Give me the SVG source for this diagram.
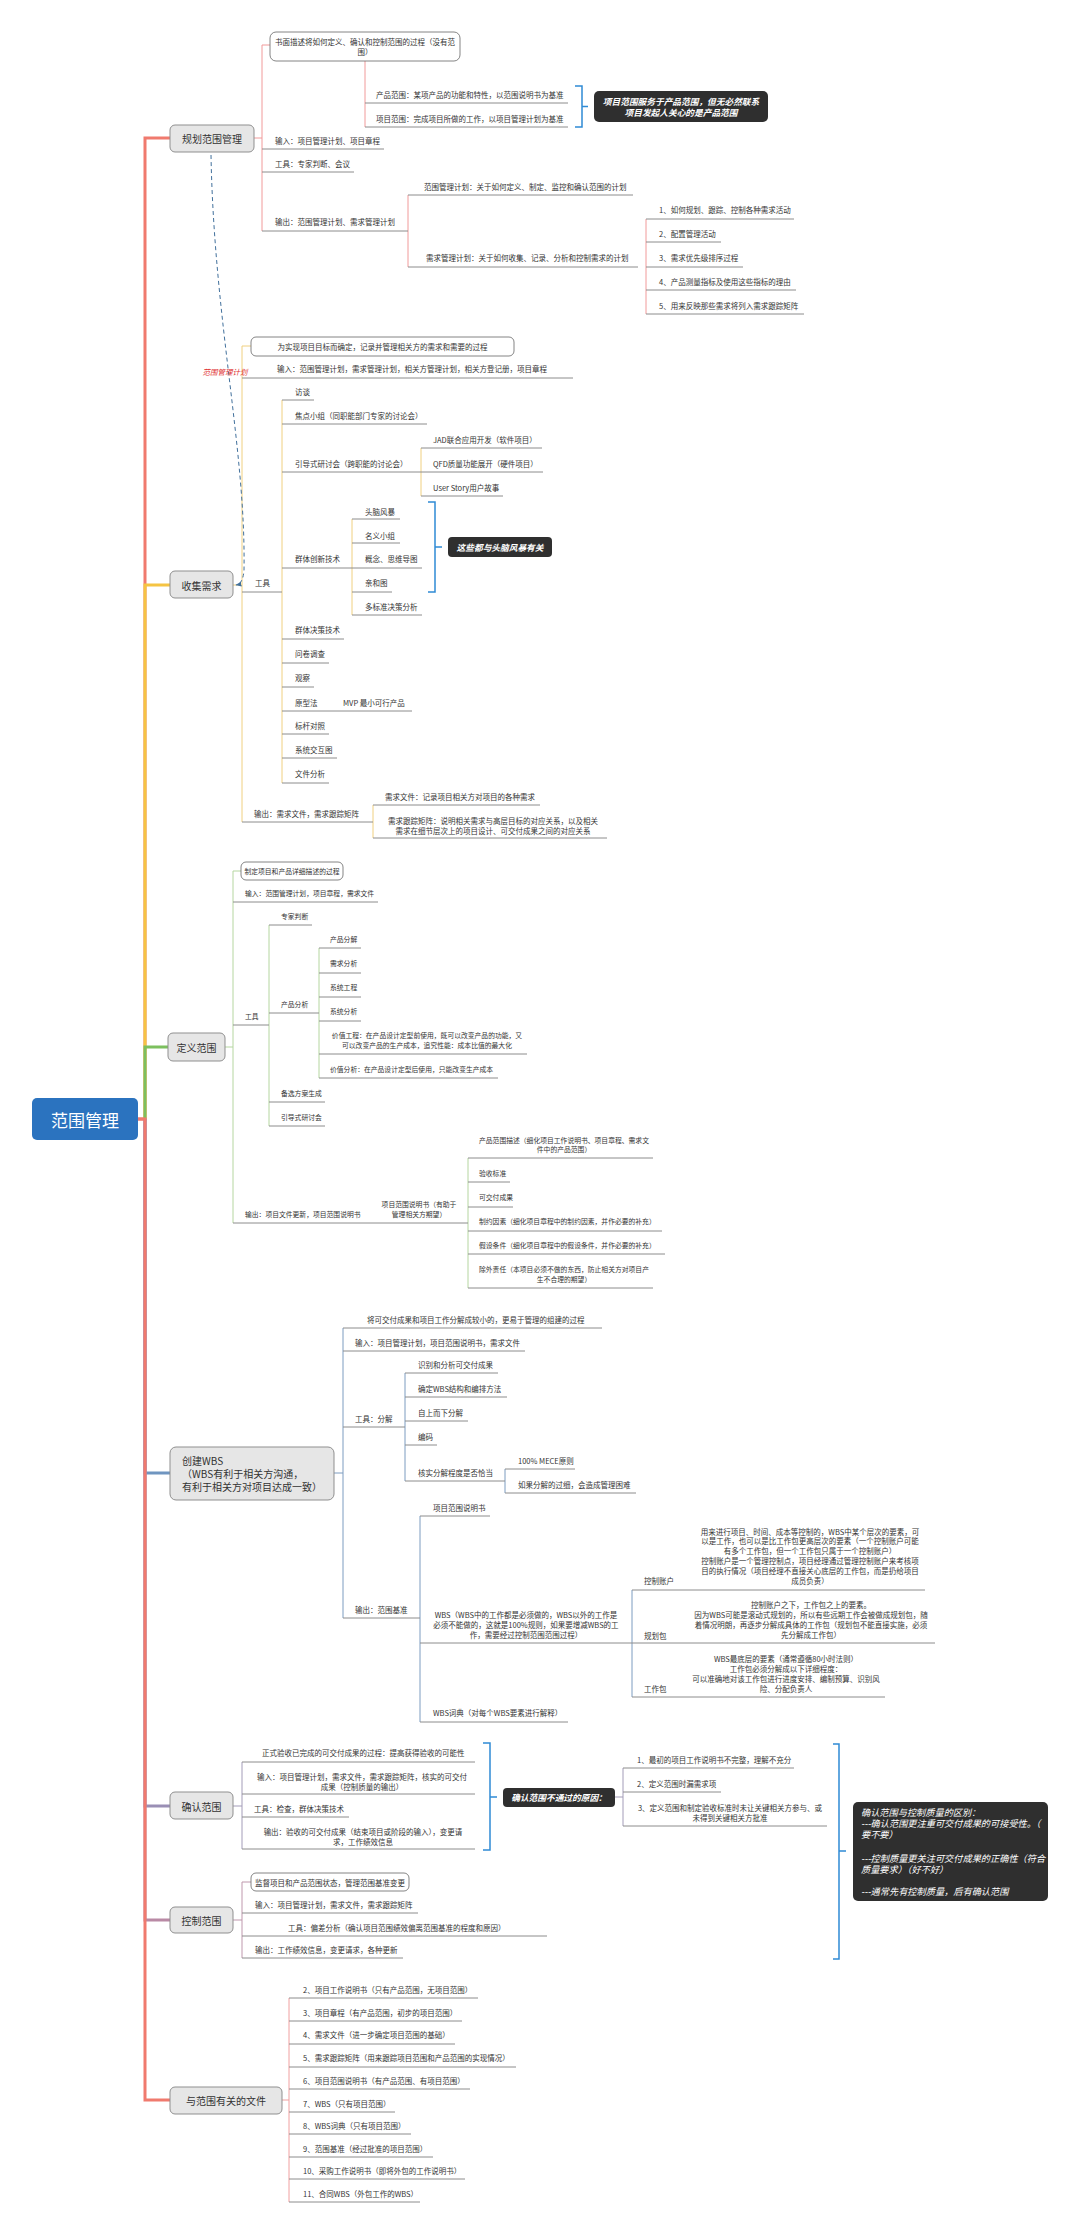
<svg xmlns="http://www.w3.org/2000/svg" width="1080" height="2234" viewBox="0 0 1080 2234">
<style>
text{font-family:"Noto Sans CJK SC","Noto Sans",sans-serif;font-size:7.5px;fill:#333;dominant-baseline:central}
.c{text-anchor:middle}
.s{font-size:6.8px}
.m{font-size:10px;fill:#333}
.r{font-size:17px;fill:#fff}
.d{fill:#fff;font-weight:bold;font-style:italic;font-size:8.7px}
.d2{fill:#fff;font-style:italic;font-size:9.2px}
.lbl{fill:#e03030;font-style:italic}
.u{stroke:#8c8c8c;stroke-width:1;fill:none}
.mb{fill:#e6e6e6;stroke:#8f8f8f;stroke-width:1}
.bx{fill:#fff;stroke:#666;stroke-width:0.8}
.dk{fill:#2f2f2f}
.br{fill:none;stroke:#2f8bd5;stroke-width:1.5}
.k{fill:none;stroke-width:1}
.tr{fill:none;stroke-width:3}
</style>
<defs>
<marker id="ah" viewBox="0 0 10 10" refX="9" refY="5" markerWidth="6" markerHeight="6" orient="auto"><path d="M0,1L10,5L0,9z" fill="#41709c"/></marker>
</defs>
<rect width="1080" height="2234" fill="#fff"/>

<g id="connectors">
<path class="tr" stroke="#f07a6e" d="M138,1119H145V138H170"/>
<path class="tr" stroke="#f5c443" d="M145,1119V585H170"/>
<path class="tr" stroke="#7cc05e" d="M145,1119V1047H168"/>
<path class="tr" stroke="#6f95c0" d="M145,1119V1473H170"/>
<path class="tr" stroke="#9a8fb5" d="M145,1119V1806H170"/>
<path class="tr" stroke="#b98aa5" d="M145,1119V1920H170"/>
<path class="tr" stroke="#f07a6e" d="M138,1119H145V2100H170"/>
<g class="k" stroke="#f19a9a">
<path d="M254,138H262M270,45H262V231"/><path d="M365,61V127"/><path d="M408,195V267"/><path d="M646,219V314"/>
</g>
<g class="k" stroke="#f0d080">
<path d="M233,585H242M251,346H242V822"/><path d="M282,400V783"/><path d="M421,448V496"/><path d="M352,519V615"/><path d="M373,805V838"/>
</g>
<g class="k" stroke="#b5d6a0">
<path d="M225,1047H233M241,871H233V1223"/><path d="M269,925V1126"/><path d="M319,948V1078"/><path d="M468,1158V1288"/>
</g>
<g class="k" stroke="#7d9cc0">
<path d="M334,1473H343M343,1328V1618"/><path d="M405,1373V1481"/><path d="M505,1469V1493"/><path d="M420,1516V1722"/><path d="M632,1590V1697"/>
</g>
<g class="k" stroke="#a39cb8">
<path d="M233,1806H242M242,1762V1849"/><path d="M615,1797H623M623,1768V1826"/>
</g>
<g class="k" stroke="#bf98ad">
<path d="M233,1920H242M251,1882H242V1958"/>
</g>
<g class="k" stroke="#f0a0a0">
<path d="M282,2100H289M289,1998V2202"/>
</g>
<path class="br" d="M575,86H582V127H575M582,106.5H588"/>
<path class="br" d="M428,502H435V592H428M435,547H442"/>
<path class="br" d="M483,1743H490V1850H483M490,1797H497"/>
<path class="br" d="M833,1744H839V1959H833M839,1851H846"/>
<path d="M211,155C214,320 246,450 244,570Q243,584 236,585" fill="none" stroke="#41709c" stroke-width="1" stroke-dasharray="4 3" marker-end="url(#ah)"/>
<text class="lbl c" x="225" y="371">范围管理计划</text>
</g>

<g id="root"><rect x="32" y="1098" width="106" height="42" rx="5" fill="#2b73bf"/><text class="r c" x="85" y="1119.5">范围管理</text></g>

<g id="plan">
<rect class="mb" x="170" y="125" width="84" height="27" rx="5"/><text class="m c" x="212" y="138.5">规划范围管理</text>
<g id="plan-def"><rect class="bx" x="270" y="32" width="190" height="29" rx="6"/><text class="c" x="365" y="41">书面描述将如何定义、确认和控制范围的过程（没有范</text><text class="c" x="365" y="51">围）</text></g>
<g id="plan-prod"><text x="376" y="94">产品范围：某项产品的功能和特性，以范围说明书为基准</text><path class="u" d="M365,103H568"/></g>
<g id="plan-proj"><text x="376" y="118">项目范围：完成项目所做的工作，以项目管理计划为基准</text><path class="u" d="M365,127H568"/></g>
<g id="plan-note"><rect class="dk" x="594" y="91" width="174" height="31" rx="5"/><text class="d c" x="681" y="101">项目范围服务于产品范围，但无必然联系</text><text class="d c" x="681" y="112">项目发起人关心的是产品范围</text></g>
<g id="plan-in"><text x="275" y="140">输入：项目管理计划、项目章程</text><path class="u" d="M262,149H384"/></g>
<g id="plan-tool"><text x="275" y="163">工具：专家判断、会议</text><path class="u" d="M262,172H354"/></g>
<g id="plan-out"><text x="275" y="221">输出：范围管理计划、需求管理计划</text><path class="u" d="M262,231H408"/></g>
<g id="plan-out1"><text x="424" y="186">范围管理计划：关于如何定义、制定、监控和确认范围的计划</text><path class="u" d="M408,195H633"/></g>
<g id="plan-out2"><text x="426" y="257">需求管理计划：关于如何收集、记录、分析和控制需求的计划</text><path class="u" d="M408,267H638"/></g>
<g id="plan-r1"><text x="659" y="209">1、如何规划、跟踪、控制各种需求活动</text><path class="u" d="M646,219H794"/></g>
<g id="plan-r2"><text x="659" y="233">2、配置管理活动</text><path class="u" d="M646,242H721"/></g>
<g id="plan-r3"><text x="659" y="257">3、需求优先级排序过程</text><path class="u" d="M646,267H743"/></g>
<g id="plan-r4"><text x="659" y="281">4、产品测量指标及使用这些指标的理由</text><path class="u" d="M646,290H796"/></g>
<g id="plan-r5"><text x="659" y="305">5、用来反映那些需求将列入需求跟踪矩阵</text><path class="u" d="M646,314H804"/></g>
</g>

<g id="collect">
<rect class="mb" x="170" y="571" width="63" height="27" rx="5"/><text class="m c" x="201.5" y="585">收集需求</text>
<g id="col-def"><rect class="bx" x="251" y="337" width="263" height="19" rx="5"/><text class="c" x="382.5" y="346.5">为实现项目目标而确定，记录并管理相关方的需求和需要的过程</text></g>
<g id="col-in"><text x="277" y="368">输入：范围管理计划，需求管理计划，相关方管理计划，相关方登记册，项目章程</text><path class="u" d="M242,378H573"/></g>
<g id="col-tool"><text x="255" y="582">工具</text><path class="u" d="M242,592H282"/></g>
<g id="col-t1"><text x="295" y="391">访谈</text><path class="u" d="M282,400H314"/></g>
<g id="col-t2"><text x="295" y="415">焦点小组（同职能部门专家的讨论会）</text><path class="u" d="M282,424H427"/></g>
<g id="col-t3"><text x="295" y="463">引导式研讨会（跨职能的讨论会）</text><path class="u" d="M282,472H421"/></g>
<g id="col-t3a"><text x="433" y="439">JAD联合应用开发（软件项目）</text><path class="u" d="M421,448H542"/></g>
<g id="col-t3b"><text x="433" y="463">QFD质量功能展开（硬件项目）</text><path class="u" d="M421,472H543"/></g>
<g id="col-t3c"><text x="433" y="487">User Story用户故事</text><path class="u" d="M421,496H503"/></g>
<g id="col-t4"><text x="295" y="558">群体创新技术</text><path class="u" d="M282,568H352"/></g>
<g id="col-t4a"><text x="365" y="511">头脑风暴</text><path class="u" d="M352,519H400"/></g>
<g id="col-t4b"><text x="365" y="535">名义小组</text><path class="u" d="M352,543H400"/></g>
<g id="col-t4c"><text x="365" y="558">概念、思维导图</text><path class="u" d="M352,568H422"/></g>
<g id="col-t4d"><text x="365" y="582">亲和图</text><path class="u" d="M352,592H392"/></g>
<g id="col-t4e"><text x="365" y="606">多标准决策分析</text><path class="u" d="M352,615H422"/></g>
<g id="col-note"><rect class="dk" x="448" y="537" width="104" height="20" rx="4"/><text class="d c" x="500" y="547">这些都与头脑风暴有关</text></g>
<g id="col-t5"><text x="295" y="629">群体决策技术</text><path class="u" d="M282,639H344"/></g>
<g id="col-t6"><text x="295" y="653">问卷调查</text><path class="u" d="M282,663H329"/></g>
<g id="col-t7"><text x="295" y="677">观察</text><path class="u" d="M282,687H314"/></g>
<g id="col-t8"><text x="295" y="702">原型法</text><path class="u" d="M282,711H338"/></g>
<g id="col-t8a"><text x="343" y="702">MVP 最小可行产品</text><path class="u" d="M338,711H412"/></g>
<g id="col-t9"><text x="295" y="725">标杆对照</text><path class="u" d="M282,734H329"/></g>
<g id="col-t10"><text x="295" y="749">系统交互图</text><path class="u" d="M282,758H337"/></g>
<g id="col-t11"><text x="295" y="773">文件分析</text><path class="u" d="M282,783H329"/></g>
<g id="col-out"><text x="254" y="813">输出：需求文件，需求跟踪矩阵</text><path class="u" d="M242,822H373"/></g>
<g id="col-o1"><text x="385" y="796">需求文件：记录项目相关方对项目的各种需求</text><path class="u" d="M373,805H540"/></g>
<g id="col-o2"><text class="c" x="493" y="820">需求跟踪矩阵：说明相关需求与高层目标的对应关系，以及相关</text><text class="c" x="493" y="830">需求在细节层次上的项目设计、可交付成果之间的对应关系</text><path class="u" d="M373,838H607"/></g>
</g>

<g id="define">
<rect class="mb" x="168" y="1033" width="57" height="28" rx="5"/><text class="m c" x="196.5" y="1047">定义范围</text>
<g id="def-def"><rect class="bx" x="241" y="862" width="102" height="18" rx="5"/><text class="s c" x="292" y="871">制定项目和产品详细描述的过程</text></g>
<g id="def-in"><text class="s" x="245" y="893">输入：范围管理计划，项目章程，需求文件</text><path class="u" d="M233,902H378"/></g>
<g id="def-tool"><text class="s" x="245" y="1016">工具</text><path class="u" d="M233,1025H269"/></g>
<g id="def-t1"><text class="s" x="281" y="916">专家判断</text><path class="u" d="M269,925H312"/></g>
<g id="def-t2"><text class="s" x="281" y="1004">产品分析</text><path class="u" d="M269,1013H319"/></g>
<g id="def-t2a"><text class="s" x="330" y="939">产品分解</text><path class="u" d="M319,948H361"/></g>
<g id="def-t2b"><text class="s" x="330" y="963">需求分析</text><path class="u" d="M319,973H361"/></g>
<g id="def-t2c"><text class="s" x="330" y="987">系统工程</text><path class="u" d="M319,997H361"/></g>
<g id="def-t2d"><text class="s" x="330" y="1011">系统分析</text><path class="u" d="M319,1021H361"/></g>
<g id="def-t2e"><text class="s c" x="427" y="1035">价值工程：在产品设计定型前使用，既可以改变产品的功能，又</text><text class="s c" x="427" y="1045">可以改变产品的生产成本，追究性能：成本比值的最大化</text><path class="u" d="M319,1054H527"/></g>
<g id="def-t2f"><text class="s" x="330" y="1069">价值分析：在产品设计定型后使用，只能改变生产成本</text><path class="u" d="M319,1078H498"/></g>
<g id="def-t3"><text class="s" x="281" y="1093">备选方案生成</text><path class="u" d="M269,1102H325"/></g>
<g id="def-t4"><text class="s" x="281" y="1117">引导式研讨会</text><path class="u" d="M269,1126H325"/></g>
<g id="def-out"><text class="s" x="245" y="1214">输出：项目文件更新，项目范围说明书</text><path class="u" d="M233,1223H378"/></g>
<g id="def-o1"><text class="s c" x="419" y="1204">项目范围说明书（有助于</text><text class="s c" x="419" y="1214">管理相关方期望）</text><path class="u" d="M378,1223H468"/></g>
<g id="def-o1a"><text class="s c" x="564" y="1140">产品范围描述（细化项目工作说明书、项目章程、需求文</text><text class="s c" x="564" y="1149">件中的产品范围）</text><path class="u" d="M468,1158H653"/></g>
<g id="def-o1b"><text class="s" x="479" y="1173">验收标准</text><path class="u" d="M468,1182H510"/></g>
<g id="def-o1c"><text class="s" x="479" y="1197">可交付成果</text><path class="u" d="M468,1207H513"/></g>
<g id="def-o1d"><text class="s" x="479" y="1221">制约因素（细化项目章程中的制约因素，并作必要的补充）</text><path class="u" d="M468,1231H662"/></g>
<g id="def-o1e"><text class="s" x="479" y="1245">假设条件（细化项目章程中的假设条件，并作必要的补充）</text><path class="u" d="M468,1254H665"/></g>
<g id="def-o1f"><text class="s c" x="564" y="1269">除外责任（本项目必须不做的东西，防止相关方对项目产</text><text class="s c" x="564" y="1279">生不合理的期望）</text><path class="u" d="M468,1288H653"/></g>
</g>

<g id="wbs">
<rect class="mb" x="170" y="1447" width="164" height="53" rx="6"/>
<text class="m" x="182" y="1460">创建WBS</text><text class="m" x="182" y="1473">（WBS有利于相关方沟通，</text><text class="m" x="182" y="1486">有利于相关方对项目达成一致）</text>
<g id="wbs-def"><text x="367" y="1319">将可交付成果和项目工作分解成较小的，更易于管理的组建的过程</text><path class="u" d="M343,1328H602"/></g>
<g id="wbs-in"><text x="355" y="1342">输入：项目管理计划，项目范围说明书，需求文件</text><path class="u" d="M343,1351H525"/></g>
<g id="wbs-tool"><text x="355" y="1418">工具：分解</text><path class="u" d="M343,1427H405"/></g>
<g id="wbs-t1"><text x="418" y="1364">识别和分析可交付成果</text><path class="u" d="M405,1373H498"/></g>
<g id="wbs-t2"><text x="418" y="1388">确定WBS结构和编排方法</text><path class="u" d="M405,1397H507"/></g>
<g id="wbs-t3"><text x="418" y="1412">自上而下分解</text><path class="u" d="M405,1421H468"/></g>
<g id="wbs-t4"><text x="418" y="1436">编码</text><path class="u" d="M405,1445H437"/></g>
<g id="wbs-t5"><text x="418" y="1472">核实分解程度是否恰当</text><path class="u" d="M405,1481H505"/></g>
<g id="wbs-t5a"><text x="518" y="1460">100% MECE原则</text><path class="u" d="M505,1469H575"/></g>
<g id="wbs-t5b"><text x="518" y="1484">如果分解的过细，会造成管理困难</text><path class="u" d="M505,1493H636"/></g>
<g id="wbs-out"><text x="355" y="1609">输出：范围基准</text><path class="u" d="M343,1618H420"/></g>
<g id="wbs-o1"><text x="433" y="1507">项目范围说明书</text><path class="u" d="M420,1516H490"/></g>
<g id="wbs-o2"><text class="c" x="526" y="1614">WBS（WBS中的工作都是必须做的，WBS以外的工作是</text><text class="c" x="526" y="1624">必须不能做的，这就是100%规则，如果要增减WBS的工</text><text class="c" x="526" y="1634">作，需要经过控制范围范围过程）</text><path class="u" d="M420,1643H632"/></g>
<g id="wbs-ca"><text x="644" y="1580">控制账户</text>
<text class="c" x="810" y="1531">用来进行项目、时间、成本等控制的，WBS中某个层次的要素，可</text>
<text class="c" x="810" y="1540.8">以是工作，也可以是比工作包更高层次的要素（一个控制账户可能</text>
<text class="c" x="810" y="1550.6">有多个工作包，但一个工作包只属于一个控制账户）</text>
<text class="c" x="810" y="1560.4">控制账户是一个管理控制点，项目经理通过管理控制账户来考核项</text>
<text class="c" x="810" y="1570.2">目的执行情况（项目经理不直接关心底层的工作包，而是扔给项目</text>
<text class="c" x="810" y="1580">成员负责）</text>
<path class="u" d="M632,1590H925"/></g>
<g id="wbs-pp"><text x="644" y="1635">规划包</text>
<text class="c" x="811" y="1604">控制账户之下，工作包之上的要素。</text>
<text class="c" x="811" y="1614">因为WBS可能是滚动式规划的，所以有些远期工作会被做成规划包，随</text>
<text class="c" x="811" y="1624">着情况明朗，再逐步分解成具体的工作包（规划包不能直接实施，必须</text>
<text class="c" x="811" y="1634">先分解成工作包）</text>
<path class="u" d="M632,1643H935"/></g>
<g id="wbs-wp"><text x="644" y="1688">工作包</text>
<text class="c" x="786" y="1658">WBS最底层的要素（通常遵循80小时法则）</text>
<text class="c" x="786" y="1668">工作包必须分解成以下详细程度：</text>
<text class="c" x="786" y="1678">可以准确地对该工作包进行进度安排、编制预算、识别风</text>
<text class="c" x="786" y="1688">险、分配负责人</text>
<path class="u" d="M632,1697H885"/></g>
<g id="wbs-o3"><text x="433" y="1712">WBS词典（对每个WBS要素进行解释）</text><path class="u" d="M420,1722H568"/></g>
</g>

<g id="confirm">
<rect class="mb" x="170" y="1792" width="63" height="27" rx="5"/><text class="m c" x="201.5" y="1806">确认范围</text>
<g id="conf-def"><text x="262" y="1752">正式验收已完成的可交付成果的过程：提高获得验收的可能性</text><path class="u" d="M242,1762H475"/></g>
<g id="conf-in"><text class="c" x="362" y="1776">输入：项目管理计划，需求文件，需求跟踪矩阵，核实的可交付</text><text class="c" x="362" y="1786">成果（控制质量的输出）</text><path class="u" d="M242,1794H475"/></g>
<g id="conf-tool"><text x="254" y="1808">工具：检查，群体决策技术</text><path class="u" d="M242,1817H349"/></g>
<g id="conf-out"><text class="c" x="363" y="1831">输出：验收的可交付成果（结束项目或阶段的输入），变更请</text><text class="c" x="363" y="1841">求，工作绩效信息</text><path class="u" d="M242,1849H475"/></g>
<g id="conf-note"><rect class="dk" x="503" y="1788" width="112" height="19" rx="4"/><text class="d c" x="559" y="1797.5">确认范围不通过的原因：</text></g>
<g id="conf-r1"><text x="637" y="1759">1、最初的项目工作说明书不完整，理解不充分</text><path class="u" d="M623,1768H794"/></g>
<g id="conf-r2"><text x="637" y="1783">2、定义范围时漏需求项</text><path class="u" d="M623,1792H721"/></g>
<g id="conf-r3"><text class="c" x="730" y="1807">3、定义范围和制定验收标准时未让关键相关方参与、或</text><text class="c" x="730" y="1817">未得到关键相关方批准</text><path class="u" d="M623,1826H827"/></g>
<g id="conf-diff"><rect class="dk" x="853" y="1802" width="195" height="99" rx="5"/>
<text class="d2" x="861" y="1812">确认范围与控制质量的区别：</text>
<text class="d2" x="861" y="1823">---确认范围更注重可交付成果的可接受性。（</text>
<text class="d2" x="861" y="1834">要不要）</text>
<text class="d2" x="861" y="1858">---控制质量更关注可交付成果的正确性（符合</text>
<text class="d2" x="861" y="1869">质量要求）（好不好）</text>
<text class="d2" x="861" y="1891">---通常先有控制质量，后有确认范围</text>
</g>
</g>

<g id="control">
<rect class="mb" x="170" y="1907" width="63" height="26" rx="5"/><text class="m c" x="201.5" y="1920">控制范围</text>
<g id="ctl-def"><rect class="bx" x="251" y="1873" width="158" height="18" rx="5"/><text x="255" y="1882">监督项目和产品范围状态，管理范围基准变更</text></g>
<g id="ctl-in"><text x="255" y="1904">输入：项目管理计划，需求文件，需求跟踪矩阵</text><path class="u" d="M242,1913H418"/></g>
<g id="ctl-tool"><text x="288" y="1927">工具：偏差分析（确认项目范围绩效偏离范围基准的程度和原因）</text><path class="u" d="M242,1936H547"/></g>
<g id="ctl-out"><text x="255" y="1949">输出：工作绩效信息，变更请求，各种更新</text><path class="u" d="M242,1958H403"/></g>
</g>

<g id="files">
<rect class="mb" x="170" y="2087" width="112" height="27" rx="5"/><text class="m c" x="226" y="2100.5">与范围有关的文件</text>
<g id="f2"><text x="303" y="1989">2、项目工作说明书（只有产品范围，无项目范围）</text><path class="u" d="M289,1998H478"/></g>
<g id="f3"><text x="303" y="2012">3、项目章程（有产品范围，初步的项目范围）</text><path class="u" d="M289,2021H462"/></g>
<g id="f4"><text x="303" y="2034">4、需求文件（进一步确定项目范围的基础）</text><path class="u" d="M289,2044H455"/></g>
<g id="f5"><text x="303" y="2057">5、需求跟踪矩阵（用来跟踪项目范围和产品范围的实现情况）</text><path class="u" d="M289,2067H516"/></g>
<g id="f6"><text x="303" y="2080">6、项目范围说明书（有产品范围、有项目范围）</text><path class="u" d="M289,2089H470"/></g>
<g id="f7"><text x="303" y="2103">7、WBS（只有项目范围）</text><path class="u" d="M289,2112H395"/></g>
<g id="f8"><text x="303" y="2125">8、WBS词典（只有项目范围）</text><path class="u" d="M289,2134H411"/></g>
<g id="f9"><text x="303" y="2148">9、范围基准（经过批准的项目范围）</text><path class="u" d="M289,2157H433"/></g>
<g id="f10"><text x="303" y="2170">10、采购工作说明书（即将外包的工作说明书）</text><path class="u" d="M289,2179H465"/></g>
<g id="f11"><text x="303" y="2193">11、合同WBS（外包工作的WBS）</text><path class="u" d="M289,2202H420"/></g>
</g>
</svg>
